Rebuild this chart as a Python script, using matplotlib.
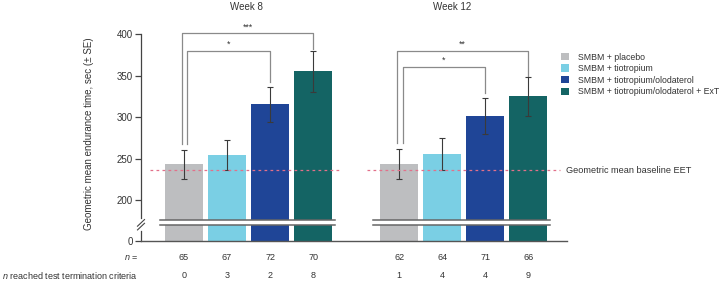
import numpy as np
import matplotlib
matplotlib.use('Agg')
import matplotlib.pyplot as plt
from matplotlib.patches import Patch
from matplotlib.transforms import blended_transform_factory

plt.rcParams['font.family'] = ['Liberation Sans', 'DejaVu Sans']
plt.rcParams['mathtext.fontset'] = 'custom'
plt.rcParams['mathtext.rm'] = 'Liberation Sans'
plt.rcParams['mathtext.it'] = 'Liberation Sans:italic'

# ---------------- data ----------------
groups = ['Week 8', 'Week 12']
treatments = ['SMBM + placebo', 'SMBM + tiotropium',
              'SMBM + tiotropium/olodaterol', 'SMBM + tiotropium/olodaterol + ExT']
colors = ['#BDBEC0', '#7ACFE4', '#1F4597', '#146464']
week8_mean = [244, 254, 316, 356]
week8_lo = [226, 236, 294, 330]
week8_hi = [261, 272, 337, 380]
week12_mean = [244, 256, 302, 325]
week12_lo = [225, 236, 280, 301]
week12_hi = [262, 275, 323, 348]
n_week8 = [65, 67, 72, 70]
n_week12 = [62, 64, 71, 66]
term_week8 = [0, 3, 2, 8]
term_week12 = [1, 4, 4, 9]
baseline_eet = 236
yticks = [0, 200, 250, 300, 350, 400]
# significance brackets: (group, from bar, to bar, label, bracket height)
brackets = [(0, 0, 3, '***', 401), (0, 0, 2, '*', 380),
            (1, 0, 3, '**', 380), (1, 0, 2, '*', 361)]

means = [week8_mean, week12_mean]
los = [week8_lo, week12_lo]
his = [week8_hi, week12_hi]
ns = [n_week8, n_week12]
terms = [term_week8, term_week12]

# ---------------- broken axis scale ----------------
CUT = 185.0   # above this value the axis is linear
ZERO_D = 151.0  # display position of zero


def fwd(v):
    v = np.asarray(v, dtype=float)
    return np.where(v >= CUT, v, ZERO_D + v * (CUT - ZERO_D) / CUT)


def inv(d):
    d = np.asarray(d, dtype=float)
    return np.where(d >= CUT, d, (d - ZERO_D) * CUT / (CUT - ZERO_D))


W, H = 721, 282
fig = plt.figure(figsize=(W / 100, H / 100), dpi=100)
ax = fig.add_axes([141 / W, 1 - 240.7 / H, (567 - 141) / W, (240.7 - 34.3) / H])
ax.set_yscale('function', functions=(fwd, inv))
ax.set_ylim(0, 400)
ax.set_xlim(-1.0, 8.9)

GROUP_OFF = 5
bar_w = 0.88
for g in range(2):
    x = np.arange(4) + GROUP_OFF * g
    m = np.array(means[g])
    ax.bar(x, m, width=bar_w, color=colors, zorder=2)
    yerr = [m - np.array(los[g]), np.array(his[g]) - m]
    ax.errorbar(x, m, yerr=yerr, fmt='none', ecolor='#3a3a3a',
                elinewidth=0.8, capsize=2.4, capthick=0.8, zorder=4)

# baseline dashed line
for g, (a, b) in enumerate([(-0.79, 3.63), (4.26, 8.74)]):
    ax.plot([a, b], [baseline_eet] * 2, ls=(0, (2.2, 2.6)), color='#E2708A',
            lw=0.9, zorder=5)
ax.text(8.88, baseline_eet, 'Geometric mean baseline EET', fontsize=6.6,
        va='center', ha='left', color='#333333', clip_on=False)

# axis break band across the bars
blo, bhi = float(inv(170.0)), float(inv(176.5))
for a, b in [(-0.56, 3.51), (4.40, 8.51)]:
    ax.fill_between([a, b], blo, bhi, color='white', zorder=6, lw=0)
    ax.plot([a, b], [blo, blo], color='#666666', lw=1.1, zorder=7)
    ax.plot([a, b], [bhi, bhi], color='#666666', lw=1.1, zorder=7)

# spines
for s in ['top', 'right', 'left']:
    ax.spines[s].set_visible(False)
ax.spines['bottom'].set_color('#555555')
ax.spines['bottom'].set_linewidth(1.0)
ax.set_xticks([])
ax.set_yticks(yticks)
ax.set_yticklabels([str(t) for t in yticks], fontsize=7, color='#333333')
ax.tick_params(axis='y', length=4, width=0.9, color='#444444', pad=2)

# left spine drawn with a break
tr = blended_transform_factory(ax.transAxes, ax.transData)
ax.plot([0, 0], [float(inv(178.7)), 400], transform=tr, color='#444444',
        lw=0.9, clip_on=False)
ax.plot([0, 0], [0, float(inv(163.0))], transform=tr, color='#444444',
        lw=0.9, clip_on=False)
dx = 3.5 / 426
for d0 in (164.0, 168.5):
    ax.plot([-dx, dx], [float(inv(d0)), float(inv(d0 + 8))], transform=tr,
            color='#444444', lw=0.8, clip_on=False)

# significance brackets
for g, i, j, lab, yb in brackets:
    off = -0.05 if j == 3 else 0.08
    x0 = i + GROUP_OFF * g + off
    x1 = j + GROUP_OFF * g
    y_left = his[g][i] + 7
    y_right = his[g][j] + (2 if j == 3 else 6)
    ax.plot([x0, x0, x1, x1], [y_left, yb, yb, y_right], color='#8a8a8a',
            lw=0.9, clip_on=False, zorder=3)
    ax.text((x0 + x1) / 2, yb + 2.5, lab, ha='center', va='bottom', fontsize=6.3,
            color='#333333', clip_on=False)

# titles
fig.text(246 / W, 1 - 7.5 / H, groups[0], ha='center', va='center', fontsize=7,
         color='#333333')
fig.text(452 / W, 1 - 7.5 / H, groups[1], ha='center', va='center', fontsize=7,
         color='#333333')

# y label
fig.text(89 / W, 1 - 134 / H, 'Geometric mean endurance time, sec (± SE)',
         rotation=90, ha='center', va='center', fontsize=7, color='#333333')

# n rows
trf = blended_transform_factory(ax.transData, fig.transFigure)
for g in range(2):
    for k in range(4):
        xx = k + GROUP_OFF * g
        ax.text(xx, 1 - 257.7 / H, str(ns[g][k]), transform=trf, ha='center',
                va='center', fontsize=6.5, color='#333333')
        ax.text(xx, 1 - 275.5 / H, str(terms[g][k]), transform=trf, ha='center',
                va='center', fontsize=6.5, color='#333333')
fig.text(138 / W, 1 - 257.7 / H, '$n$ =', ha='right', va='center', fontsize=6.5,
         color='#333333')
fig.text(138 / W, 1 - 275.5 / H, '$n$ reached test termination criteria',
         ha='right', va='center', fontsize=6.5, color='#333333')

# legend
handles = [Patch(facecolor=c, edgecolor='none') for c in colors]
fig.legend(handles, treatments, loc='upper left',
           bbox_to_anchor=(561 / W, 1 - 52.5 / H), frameon=False, fontsize=6.3,
           handlelength=0.9, handleheight=0.9, handletextpad=1.0,
           labelspacing=0.3, borderpad=0, borderaxespad=0,
           labelcolor='#333333')

fig.savefig('out.png', dpi=100)
